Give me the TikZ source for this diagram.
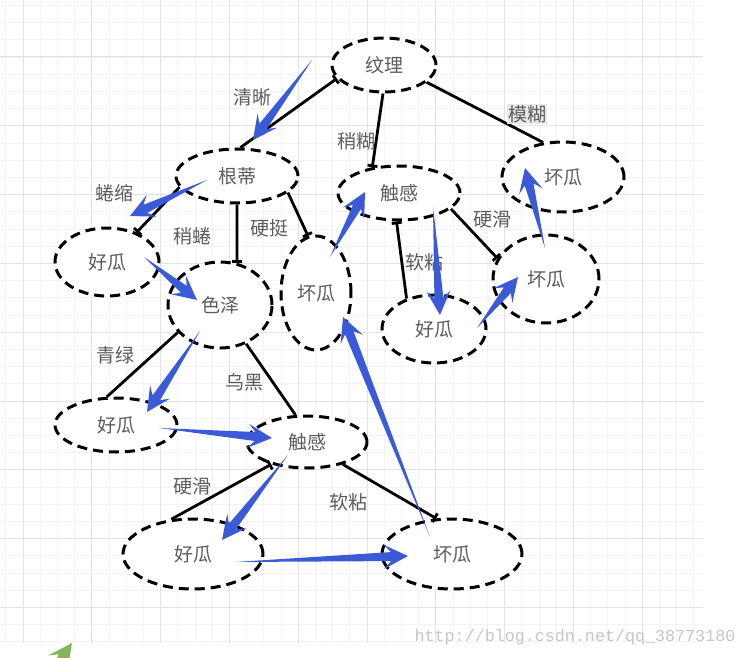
\documentclass[tikz,border=0pt]{standalone}
\usepackage{fontspec}
\usepackage{tikz}
\usetikzlibrary{arrows.meta,shapes.geometric,calc}
\newfontfamily\cjk{Noto Sans CJK SC}
\newfontfamily\wmfont{Liberation Mono}
\definecolor{arrowblue}{RGB}{58,90,215}
\definecolor{arrowgreen}{RGB}{132,182,96}
\definecolor{labelgray}{RGB}{92,92,92}
\definecolor{gridmajor}{RGB}{226,226,226}
\definecolor{gridminor}{RGB}{243,243,243}
\newcommand{\zh}{\cjk\fontsize{19pt}{21pt}\selectfont}
% tapered arrow: thin tail, wide barbed head
\newcommand{\wedgearrow}[3][arrowblue]{%
	\coordinate (wneck) at ($(#3)!17pt!(#2)$);
	\coordinate (wbarb) at ($(#3)!24pt!(#2)$);
	\fill[#1] (#2) -- ($(wneck)!4.5pt!90:(#3)$) -- ($(wbarb)!12pt!90:(#3)$) -- (#3)
		-- ($(wbarb)!12pt!-90:(#3)$) -- ($(wneck)!4.5pt!-90:(#3)$) -- cycle;
}

\begin{document}
\begin{tikzpicture}[
			x=1pt, y=-1pt,
			melon/.style={
				ellipse,
				draw=black,
				line width=3pt,
				dash pattern=on 10pt off 6pt,
				fill=white,
				inner sep=0pt,
				font=\zh,
				text=labelgray
			},
			branch/.style={
				draw=black,
				line width=2.8pt
			},
			lbl/.style={
				font=\zh,
				text=labelgray,
				inner sep=1pt
			},
			gridthin/.style={draw=gridminor, line width=0.8pt},
			gridthick/.style={draw=gridmajor, line width=1pt},
			wmark/.style={
				font={\wmfont\fontsize{16.7pt}{18pt}\selectfont},
				text=black!22
			}
		]
			\useasboundingbox (0,0) rectangle (747,658);
			\fill[white] (0,0) rectangle (747,658);
			
			% background grid
			\foreach \k in {0,...,40}
				\draw[gridthin] ({5.8+17.2*\k},0) -- ({5.8+17.2*\k},643);
			\foreach \k in {0,...,37}
				\draw[gridthin] (0,{5.4+17.2*\k}) -- (703,{5.4+17.2*\k});
			\foreach \k in {0,...,9}
				\draw[gridthick] ({23+68.8*\k},0) -- ({23+68.8*\k},643);
			\foreach \k in {0,...,8}
				\draw[gridthick] (0,{57+68.8*\k}) -- (703,{57+68.8*\k});
			
			% tree nodes
			\node[melon, minimum width=104pt, minimum height=54pt] (texture) at (384,65) {纹理};
			\node[melon, minimum width=122pt, minimum height=54pt] (stem) at (237,176) {根蒂};
			\node[melon, minimum width=104pt, minimum height=68pt] (good1) at (107,262) {好瓜};
			\node[melon, minimum width=104pt, minimum height=86pt] (colour) at (220,305) {色泽};
			\node[melon, minimum width=70pt, minimum height=114pt] (bad1) at (316,293) {坏瓜};
			\node[melon, minimum width=122pt, minimum height=54pt] (touch1) at (399,193) {触感};
			\node[melon, minimum width=122pt, minimum height=70pt] (bad2) at (563,177) {坏瓜};
			\node[melon, minimum width=106pt, minimum height=88pt] (bad3) at (546,279) {坏瓜};
			\node[melon, minimum width=104pt, minimum height=68pt] (good2) at (434,329) {好瓜};
			\node[melon, minimum width=122pt, minimum height=54pt] (good3) at (116,425) {好瓜};
			\node[melon, minimum width=120pt, minimum height=52pt] (touch2) at (307,442) {触感};
			\node[melon, minimum width=140pt, minimum height=70pt] (good4) at (193,554) {好瓜};
			\node[melon, minimum width=140pt, minimum height=70pt] (bad4) at (452,554) {坏瓜};
			
			% branches
			\draw[branch, {Bar[width=10pt]}-] (texture.196) -- (stem.83);
			\draw[branch, -{Bar[width=10pt]}] (texture.268) -- (touch1.136);
			\draw[branch] (texture.-22) -- (bad2.120);
			\draw[branch, -{Bar[width=10pt]}] (stem.191) -- (good1.45);
			\draw[branch, -{Bar[width=10pt]}] (stem.south) -- (colour.68);
			\draw[branch, -{Bar[width=10pt]}] (stem.-18) -- (bad1.98);
			\draw[branch, {Bar[width=10pt]}-] (touch1.265) -- (good2.132);
			\draw[branch, -{Bar[width=10pt]}] (touch1.-17) -- (bad3.157);
			\draw[branch] (colour.213) -- (good3.108);
			\draw[branch] (colour.-56) -- (touch2.113);
			\draw[branch, {Bar[width=10pt]}-] (touch2.212) -- (good4.122);
			\draw[branch, -{Bar[width=10pt]}] (touch2.-32) -- (bad4.114);
			
			% branch labels
			\node[lbl] (clear) at (252,97) {清晰};
			\node[lbl] (slightblur) at (356,141) {稍糊};
			\node[lbl, fill=black!9] (blurry) at (527,114) {模糊};
			\node[lbl] (curled) at (114,193) {蜷缩};
			\node[lbl] (slightcurl) at (192,236) {稍蜷};
			\node[lbl] (stiff) at (269,228) {硬挺};
			\node[lbl] (hardA) at (492,219) {硬滑};
			\node[lbl] (softA) at (424,262) {软粘};
			\node[lbl] (green) at (115,355) {青绿};
			\node[lbl] (black) at (244,382) {乌黑};
			\node[lbl] (hardB) at (192,486) {硬滑};
			\node[lbl] (softB) at (348,502) {软粘};
			
			% traversal arrows
			\coordinate (s1) at (312,60);  \coordinate (e1) at (253,140);
			\coordinate (s2) at (207,180); \coordinate (e2) at (130,216);
			\coordinate (s3) at (144,257); \coordinate (e3) at (197,300);
			\coordinate (s4) at (330,257); \coordinate (e4) at (365,192);
			\coordinate (s5) at (433,207); \coordinate (e5) at (440,315);
			\coordinate (s6) at (477,328); \coordinate (e6) at (518,277);
			\coordinate (s7) at (545,248); \coordinate (e7) at (525,168);
			\coordinate (s8) at (200,331); \coordinate (e8) at (147,412);
			\coordinate (s9) at (159,428); \coordinate (e9) at (272,438);
			\coordinate (s10) at (288,455); \coordinate (e10) at (222,540);
			\coordinate (s11) at (235,562); \coordinate (e11) at (408,556);
			\coordinate (s12) at (430,537); \coordinate (e12) at (343,317);
			\wedgearrow{s1}{e1}
			\wedgearrow{s2}{e2}
			\wedgearrow{s3}{e3}
			\wedgearrow{s4}{e4}
			\wedgearrow{s5}{e5}
			\wedgearrow{s6}{e6}
			\wedgearrow{s7}{e7}
			\wedgearrow{s8}{e8}
			\wedgearrow{s9}{e9}
			\wedgearrow{s10}{e10}
			\wedgearrow{s11}{e11}
			\wedgearrow{s12}{e12}
			
			\begin{scope}
				\clip (0,0) rectangle (747,658);
				\coordinate (gs) at (54,668); \coordinate (ge) at (72,643);
				\wedgearrow[arrowgreen]{gs}{ge}
			\end{scope}
			
			\node[wmark] (site) at (575,637) {http://blog.csdn.net/qq\_38773180};
			
		\end{tikzpicture}
\end{document}
